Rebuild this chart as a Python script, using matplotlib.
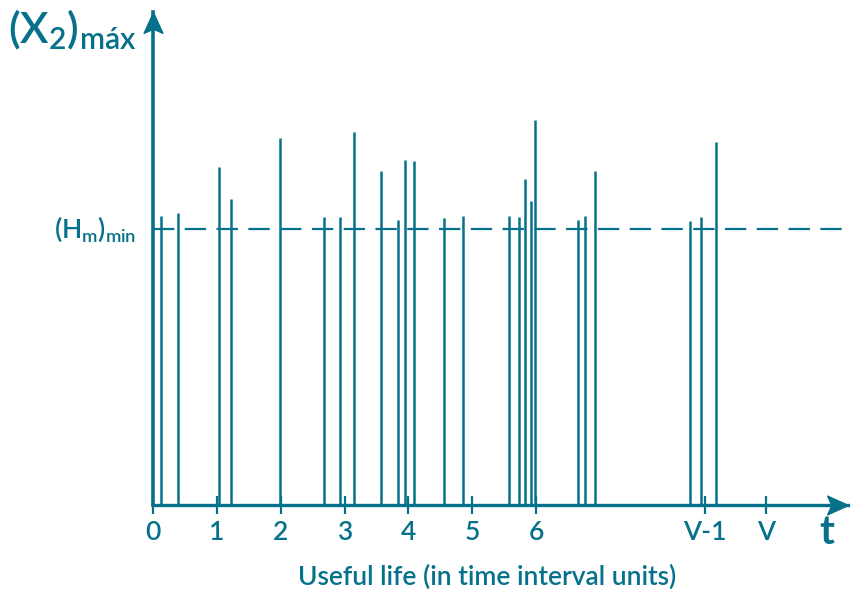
import matplotlib
matplotlib.use("Agg")
import matplotlib.pyplot as plt

# Occurrence times (in time-interval units) and peak values of X2
event_t = [0.12, 0.39, 1.03, 1.22, 1.99, 2.68, 2.93, 3.14, 3.57, 3.83, 3.94,
           4.09, 4.55, 4.85, 5.57, 5.73, 5.82, 5.92, 5.99, 6.66, 6.76, 6.93,
           8.41, 8.58, 8.82]
event_x2 = [1.047, 1.059, 1.226, 1.108, 1.331, 1.045, 1.042, 1.351, 1.209,
            1.033, 1.250, 1.246, 1.039, 1.047, 1.047, 1.045, 1.180, 1.101,
            1.394, 1.033, 1.047, 1.211, 1.030, 1.045, 1.316]

# Threshold level (Hm)min
hm_min = 1.0

# Time axis ticks
tick_pos = [0, 1, 2, 3, 4, 5, 6, 8.65, 9.6]
tick_labels = ["0", "1", "2", "3", "4", "5", "6", "V-1", "V"]

COLOR = "#06718A"
FONT = "Lato"
WEIGHT = "semibold"
W, H = 853, 593

fig = plt.figure(figsize=(W / 100, H / 100), dpi=100)
x0, y0, x1, y1 = 153.3, 505, 848, 12          # axes corners in pixels
ax = fig.add_axes([x0 / W, 1 - y0 / H, (x1 - x0) / W, (y0 - y1) / H])
ax.set_xlim(0, 10.89)
ax.set_ylim(0, 1.786)

for s in ("top", "right"):
    ax.spines[s].set_visible(False)
ax.spines["left"].set_linewidth(2.6)
ax.spines["bottom"].set_linewidth(2.4)
for s in ("left", "bottom"):
    ax.spines[s].set_color(COLOR)

# Events
ax.vlines(event_t, 0, event_x2, color=COLOR, linewidth=1.8)

# Threshold
ax.axhline(hm_min, xmin=0, xmax=0.998, color=COLOR, linewidth=1.6,
           dashes=(9.6, 4.7))

# Axis arrows
arrow_x = [(0, 0), (-2, 0.9), (-1.6, 0), (-2, -0.9), (0, 0)]
arrow_y = [(0, 0), (0.9, -2), (0, -1.6), (-0.9, -2), (0, 0)]
ax.plot(1, 0, marker=arrow_x, markersize=30, color=COLOR,
        transform=ax.transAxes, clip_on=False)
ax.plot(0, 1, marker=arrow_y, markersize=30, color=COLOR,
        transform=ax.transAxes, clip_on=False)

ax.set_yticks([])
ax.set_xticks(tick_pos, tick_labels)
ax.tick_params(axis="x", direction="inout", length=13, width=1.6,
               color=COLOR, labelcolor=COLOR, labelsize=19, pad=4)
for lab in ax.get_xticklabels():
    lab.set_fontfamily(FONT)
    lab.set_fontweight(WEIGHT)

fig.text(827 / W, 1 - 533 / H, "t", color=COLOR, fontsize=29,
         family=FONT, weight="bold", ha="center", va="center")
fig.text(487 / W, 1 - 577 / H, "Useful life (in time interval units)",
         color=COLOR, fontsize=19, family=FONT, weight=WEIGHT,
         ha="center", va="center")
fig.text(8 / W, 1 - 43 / H, r"$\mathregular{(X_2)_{máx}}$", color=COLOR,
         fontsize=31, family=FONT, weight=WEIGHT, ha="left", va="baseline")
fig.text(54 / W, 1 - 238 / H, r"$\mathregular{(H_m)_{min}}$", color=COLOR,
         fontsize=19, family=FONT, weight=WEIGHT, ha="left", va="baseline")

fig.savefig("out.png", dpi=100)
